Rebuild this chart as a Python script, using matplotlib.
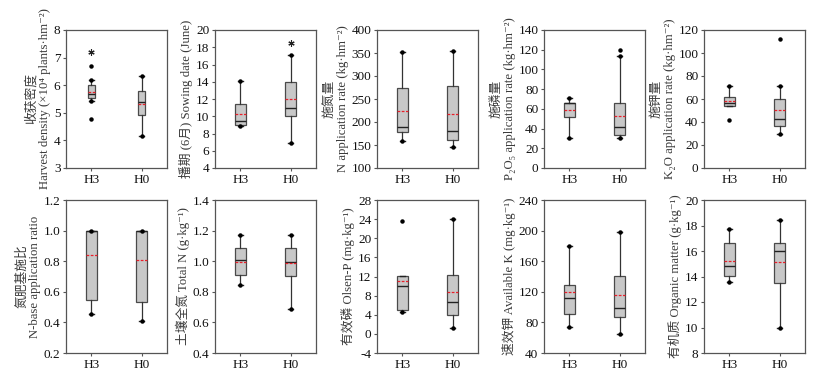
import matplotlib
matplotlib.use("Agg")
import matplotlib.pyplot as plt

plt.rcParams['font.family'] = ['Liberation Serif', 'Noto Sans CJK SC', 'DejaVu Sans']
plt.rcParams['axes.unicode_minus'] = False

groups = ['H3', 'H0']

# five-number summaries per group: whislo, q1, med, q3, whishi, mean
density_h3 = [5.43, 5.52, 5.67, 5.99, 6.18, 5.74]
density_h0 = [4.16, 4.93, 5.39, 5.78, 6.33, 5.32]
density_fliers = [[6.68, 4.77], []]
density_stars = [[7.2], []]

sowing_h3 = [8.9, 9.0, 9.5, 11.45, 14.05, 10.3]
sowing_h0 = [6.95, 10.0, 11.0, 14.0, 17.05, 11.95]
sowing_fliers = [[], []]
sowing_stars = [[], [18.5]]

nrate_h3 = [158, 179, 190, 275, 352, 223]
nrate_h0 = [145, 161, 180, 278, 355, 217]
nrate_fliers = [[], []]

prate_h3 = [30.5, 51.3, 66.3, 66.3, 71.4, 58.4]
prate_h0 = [30.5, 33.6, 42.1, 66.3, 113.5, 52.3]
prate_fliers = [[], [120]]

krate_h3 = [53.8, 53.8, 56.7, 61.9, 71.2, 58.1]
krate_h0 = [29.7, 36.6, 42.4, 59.9, 71.2, 50.0]
krate_fliers = [[41.9], [112.2]]

nbase_h3 = [0.453, 0.548, 0.998, 0.998, 1.0, 0.84]
nbase_h0 = [0.409, 0.535, 0.998, 0.998, 1.0, 0.805]
nbase_fliers = [[], []]

totaln_h3 = [0.845, 0.912, 1.010, 1.089, 1.169, 0.995]
totaln_h0 = [0.689, 0.905, 0.992, 1.085, 1.173, 0.988]
totaln_fliers = [[], []]

olsenp_h3 = [4.6, 4.97, 10.05, 12.1, 12.1, 11.15]
olsenp_h0 = [1.3, 3.86, 6.64, 12.4, 24.0, 8.66]
olsenp_fliers = [[23.7], []]

availk_h3 = [74.3, 91.0, 112.0, 128.8, 179.8, 119.1]
availk_h0 = [64.6, 87.0, 98.9, 140.2, 198.7, 116.0]
availk_fliers = [[], []]

organic_h3 = [13.6, 14.05, 14.85, 16.63, 17.72, 15.25]
organic_h0 = [9.96, 13.5, 15.99, 16.63, 18.4, 15.15]
organic_fliers = [[], []]

ylabels = [
    '收获密度\nHarvest density (×10⁴ plants·hm⁻²)',
    '播期 (6月) Sowing date (June)',
    '施氮量\nN application rate (kg·hm⁻²)',
    '施磷量\nP₂O₅ application rate (kg·hm⁻²)',
    '施钾量\nK₂O application rate (kg·hm⁻²)',
    '氮肥基施比\nN-base application ratio',
    '土壤全氮 Total N (g·kg⁻¹)',
    '有效磷 Olsen-P (mg·kg⁻¹)',
    '速效钾 Available K (mg·kg⁻¹)',
    '有机质 Organic matter (g·kg⁻¹)',
]

panels = [
    (density_h3, density_h0, density_fliers, density_stars, (3, 8, 1)),
    (sowing_h3, sowing_h0, sowing_fliers, sowing_stars, (4, 20, 2)),
    (nrate_h3, nrate_h0, nrate_fliers, None, (100, 400, 50)),
    (prate_h3, prate_h0, prate_fliers, None, (0, 140, 20)),
    (krate_h3, krate_h0, krate_fliers, None, (0, 120, 20)),
    (nbase_h3, nbase_h0, nbase_fliers, None, (0.2, 1.2, 0.2)),
    (totaln_h3, totaln_h0, totaln_fliers, None, (0.4, 1.4, 0.2)),
    (olsenp_h3, olsenp_h0, olsenp_fliers, None, (-4, 28, 4)),
    (availk_h3, availk_h0, availk_fliers, None, (40, 240, 40)),
    (organic_h3, organic_h0, organic_fliers, None, (8, 20, 2)),
]


def make_stats(summary, fliers):
    lo, q1, med, q3, hi, mean = summary
    return dict(whislo=lo, q1=q1, med=med, q3=q3, whishi=hi, mean=mean, fliers=fliers)


W, H = 816, 375
fig = plt.figure(figsize=(W / 100, H / 100), dpi=100)

col_left = [66, 215, 377, 544, 704]
row_box = [(30, 168), (200, 353)]
ax_w = 101

edge = '#4a4a4a'
for i, (s3, s0, fl, stars, (lo, hi, step)) in enumerate(panels):
    r, c = divmod(i, 5)
    top, bot = row_box[r]
    ax = fig.add_axes([col_left[c] / W, 1 - bot / H, ax_w / W, (bot - top) / H])
    stats = [make_stats(s3, fl[0]), make_stats(s0, fl[1])]
    width = 0.14 if i == 0 else 0.22
    ax.bxp(stats, positions=[1, 2], widths=width, showmeans=True, meanline=True,
           patch_artist=True, showcaps=True,
           boxprops=dict(facecolor='#c8c8c8', edgecolor=edge, linewidth=0.9),
           medianprops=dict(color='#222222', linewidth=1.0),
           meanprops=dict(color='#e8202a', linestyle=(0, (2.2, 1.2)), linewidth=0.9),
           whiskerprops=dict(color='#333333', linewidth=0.9),
           capprops=dict(color='#222222', linewidth=1.0),
           capwidths=0.09,
           flierprops=dict(marker='o', markersize=2.2, markerfacecolor='black',
                           markeredgecolor='black', linestyle='none'))
    # whisker-end dots, only where the whisker sticks out of the box
    for pos, st in zip([1, 2], stats):
        ends = [v for v, b in ((st['whislo'], st['q1']), (st['whishi'], st['q3'])) if v != b]
        ax.plot([pos] * len(ends), ends, linestyle='none',
                marker='o', markersize=2.2, color='black', zorder=4)
    if stars:
        for pos, vals in zip([1, 2], stars):
            for v in vals:
                ax.plot(pos, v, marker=(6, 2, 0), markersize=4.5, color='#222222',
                        markeredgewidth=0.8, linestyle='none')
    ax.set_xlim(0.5, 2.5)
    ax.set_ylim(lo, hi)
    n = int(round((hi - lo) / step))
    ticks = [lo + k * step for k in range(n + 1)]
    ax.set_yticks(ticks)
    if step < 1:
        ax.set_yticklabels([f'{t:.1f}' for t in ticks])
    else:
        ax.set_yticklabels([f'{t:g}' for t in ticks])
    ax.set_xticks([1, 2])
    ax.set_xticklabels(groups)
    ax.tick_params(direction='out', length=2.5, width=0.8, color='#555555',
                   labelsize=9.5, pad=1.5, labelcolor='#111111')
    for sp in ax.spines.values():
        sp.set_color('#555555')
        sp.set_linewidth(0.9)
    ax.set_ylabel(ylabels[i], fontsize=9.2, color='#3a3a3a', linespacing=1.1, labelpad=2)

fig.savefig('out.png', dpi=100)
